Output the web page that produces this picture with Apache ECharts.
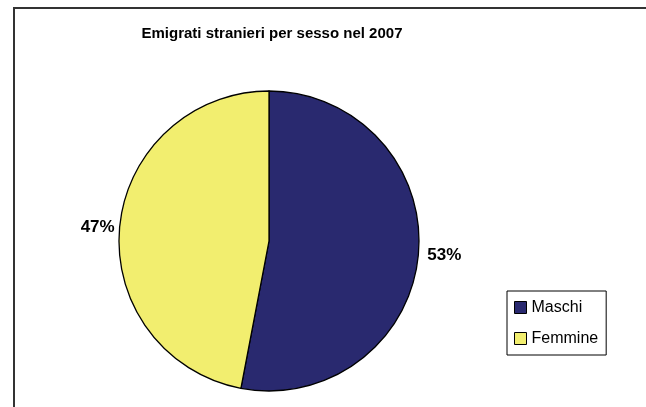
<!DOCTYPE html>
<html>
<head>
<meta charset="utf-8">
<script src="https://cdn.jsdelivr.net/npm/echarts@6/dist/echarts.min.js"></script>
<style>
html,body{margin:0;padding:0;background:#fff;}
#chart{width:646px;height:407px;}
</style>
</head>
<body>
<div id="chart"></div>
<script>
var titleText = 'Emigrati stranieri per sesso nel 2007';
var categories = ['Maschi', 'Femmine'];
var values = [53, 47];
var colors = ['#29296f', '#f2ee6f'];

var chart = echarts.init(document.getElementById('chart'), null, {renderer: 'canvas'});
var ff = '"Liberation Sans", Arial, sans-serif';
var labelGaps = [9, 5];

var option = {
  animation: false,
  backgroundColor: '#fff',
  graphic: [{
    type: 'rect',
    shape: {x: 14, y: 8, width: 700, height: 500},
    style: {fill: 'none', stroke: '#333', lineWidth: 2},
    z: 0
  }],
  title: {
    text: titleText,
    left: 267,
    top: 21,
    textAlign: 'center',
    textStyle: {fontFamily: ff, fontWeight: 'bold', fontSize: 15, color: '#000'}
  },
  legend: {
    orient: 'vertical',
    left: 507,
    top: 291,
    data: categories,
    icon: 'rect',
    itemWidth: 12,
    itemHeight: 12,
    itemGap: 14,
    padding: [8, 8, 8, 7],
    borderColor: '#000',
    borderWidth: 1,
    itemStyle: {borderColor: '#000', borderWidth: 1},
    textStyle: {fontFamily: ff, fontSize: 16, color: '#000', lineHeight: 17}
  },
  series: [{
    type: 'pie',
    center: [269, 241],
    radius: [0, 150],
    startAngle: 90,
    clockwise: true,
    avoidLabelOverlap: false,
    itemStyle: {borderColor: '#000', borderWidth: 1.3},
    emphasis: {disabled: true},
    label: {
      show: true,
      position: 'outside',
      formatter: '{c}%',
      fontFamily: ff,
      fontWeight: 'bold',
      fontSize: 17,
      color: '#000'
    },
    labelLine: {show: false, length: 0, length2: 0},
    data: categories.map(function (c, i) {
      return {
        name: c,
        value: values[i],
        itemStyle: {color: colors[i]},
        label: {distanceToLabelLine: labelGaps[i]}
      };
    })
  }]
};
chart.setOption(option);
</script>
</body>
</html>
